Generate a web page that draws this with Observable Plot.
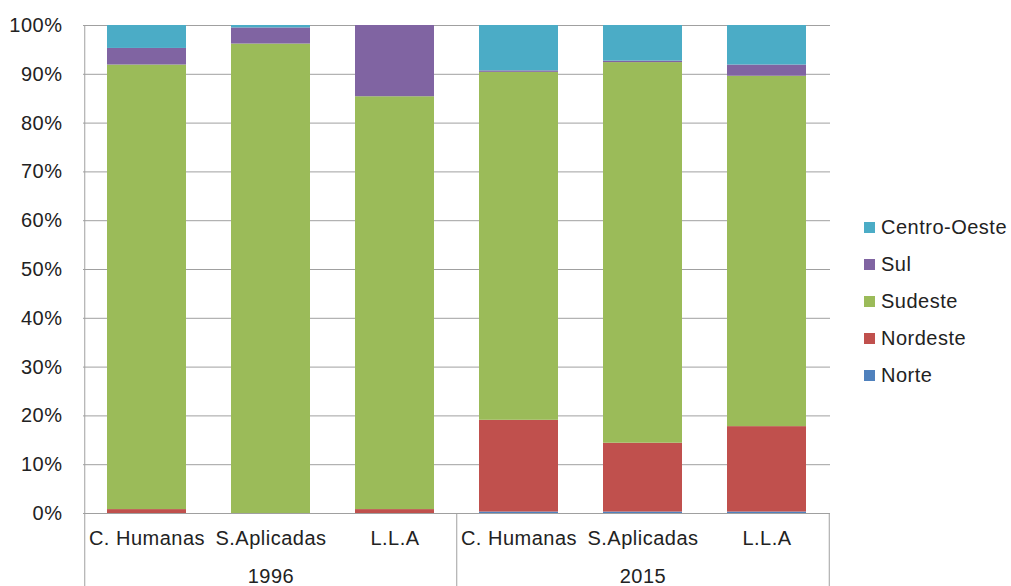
<!DOCTYPE html>
<html>
<head>
<meta charset="utf-8">
<script src="https://cdn.jsdelivr.net/npm/d3@7"></script>
<script src="https://cdn.jsdelivr.net/npm/@observablehq/plot@0.6"></script>
<style>
  html, body { margin: 0; padding: 0; background: #fff; }
  #wrap { position: relative; width: 1011px; height: 586px; font-family: "Liberation Sans", Arial, sans-serif; }
  #legend { position: absolute; left: 864px; top: 209px; font-size: 20px; color: #222; letter-spacing: 0.5px; }
  #legend .row { display: flex; align-items: center; height: 37px; }
  #legend .sw { width: 11px; height: 11px; margin-right: 6px; }
</style>
</head>
<body>
<div id="wrap"><div id="legend"></div></div>
<script>
const years = ["1996", "2015"];
const areas = ["C. Humanas", "S.Aplicadas", "L.L.A"];
const regions = ["Norte", "Nordeste", "Sudeste", "Sul", "Centro-Oeste"];
const colors = ["#4F81BD", "#C0504D", "#9BBB59", "#8064A2", "#4BACC6"];
// values in percent, order: 1996 (CH, SA, LLA), 2015 (CH, SA, LLA)
const norte       = [0,    0,    0,    0.3,  0.3,  0.3];
const nordeste    = [0.8,  0,    0.8,  18.8, 14.1, 17.5];
const sudeste     = [91.1, 96.2, 84.6, 71.3, 78.0, 71.8];
const sul         = [3.4,  3.3,  14.6, 0.3,  0.3,  2.3];
const centroOeste = [4.7,  0.5,  0,    9.3,  7.3,  8.1];
const yTicks = [0, 0.1, 0.2, 0.3, 0.4, 0.5, 0.6, 0.7, 0.8, 0.9, 1];

const series = [norte, nordeste, sudeste, sul, centroOeste];
const keys = [];
years.forEach(y => areas.forEach(a => keys.push(y + "|" + a)));
const data = [];
regions.forEach((r, ri) => keys.forEach((k, ki) => data.push({key: k, region: r, value: series[ri][ki] / 100})));

const W = 1011, H = 586, ML = 83, MR = 181, MT = 25, MB = 73;
const step = (W - ML - MR) / keys.length;
const gray = "#a0a0a0";
const font = "Liberation Sans, Arial, sans-serif";

const chart = Plot.plot({
  width: W, height: H,
  marginLeft: ML, marginRight: MR, marginTop: MT, marginBottom: MB,
  style: {fontFamily: font, fontSize: "20px", color: "#222", letterSpacing: "0.5px", background: "#fff"},
  x: {domain: keys, paddingInner: 0.36, paddingOuter: 0.17, axis: null},
  y: {domain: [0, 1], axis: null},
  color: {domain: regions, range: colors},
  marks: [
    Plot.gridY(yTicks, {stroke: gray, strokeOpacity: 1, strokeWidth: 1}),
    Plot.barY(data, {x: "key", y: "value", fill: "region", order: regions}),
    Plot.ruleY([0], {stroke: gray, strokeWidth: 1}),
    Plot.ruleX([keys[0]], {y1: 1, y2: -0.15, dx: -step / 2, stroke: gray}),
    Plot.ruleX([keys[3]], {y1: 0, y2: -0.15, dx: -step / 2, stroke: gray}),
    Plot.ruleX([keys[5]], {y1: 0, y2: -0.15, dx: step / 2, stroke: gray}),
    Plot.axisY({ticks: yTicks, tickFormat: d3.format(".0%"), tickSize: 0, tickPadding: 21, fontSize: 20, fill: "#222", label: null}),
    Plot.axisX({tickSize: 0, tickPadding: 17, tickFormat: d => d.split("|")[1], fontSize: 20, fill: "#222", label: null}),
    Plot.text(years, {x: d => d + "|" + areas[1], y: -0.13, text: d => d, fontSize: 20, fill: "#222", textAnchor: "middle"})
  ]
});
document.getElementById("wrap").prepend(chart);

const legend = document.getElementById("legend");
regions.slice().reverse().forEach(r => {
  const row = document.createElement("div");
  row.className = "row";
  const sw = document.createElement("div");
  sw.className = "sw";
  sw.style.background = colors[regions.indexOf(r)];
  const t = document.createElement("span");
  t.textContent = r;
  row.appendChild(sw); row.appendChild(t);
  legend.appendChild(row);
});
</script>
</body>
</html>
